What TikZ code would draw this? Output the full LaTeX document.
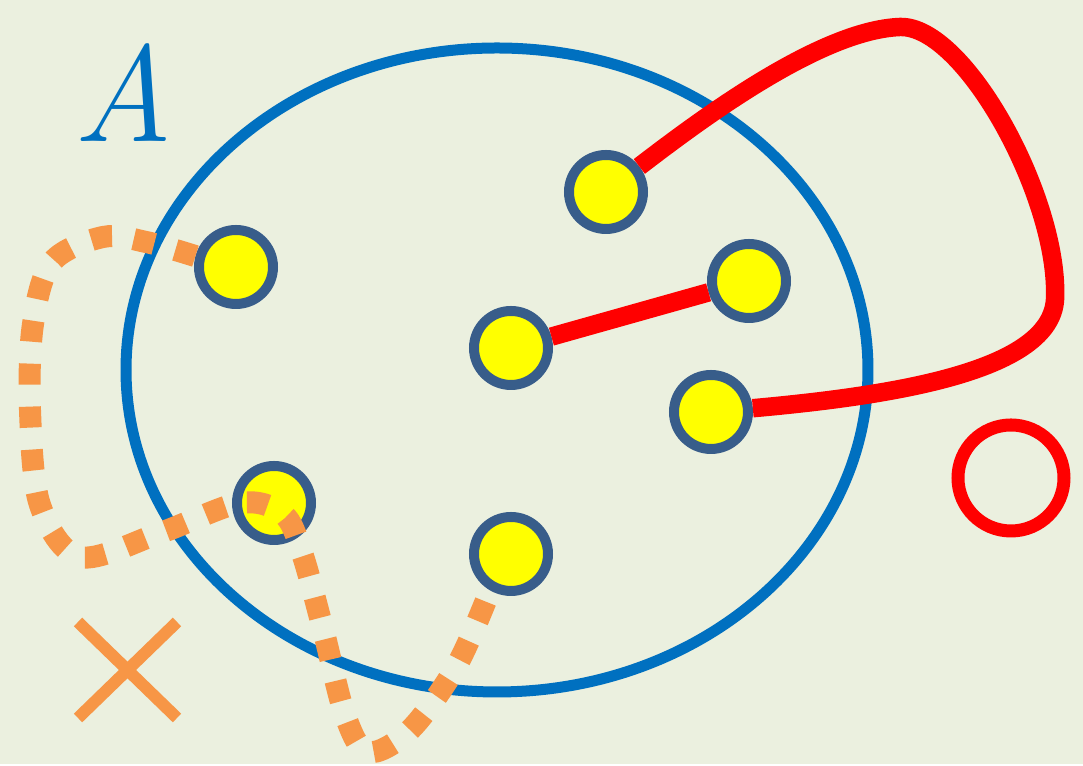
\documentclass[tikz,border=0pt]{standalone}
\usepackage{tikz}
\usetikzlibrary{calc}
\definecolor{sabg}     {HTML}{EBF0DF}
\definecolor{sablue}   {HTML}{0070C0}
\definecolor{saring}   {HTML}{385D8A}
\definecolor{sayellow} {HTML}{FFFF00}
\definecolor{sared}    {HTML}{FF0000}
\definecolor{saorange} {HTML}{F79646}
\tikzset{
  sadot/.style={circle, draw=saring, fill=sayellow, line width=1mm,
                minimum size=7.4mm, inner sep=0pt},
  saset/.style={draw=sablue, line width=1.1mm},
  salink/.style={draw=sared, line width=1.85mm},
  satrail/.style={draw=saorange, line width=2.2mm, dash pattern=on 2.1mm off 2.2mm},
  samark/.style={draw=saorange, line width=1.2mm},
  saring/.style={circle, draw=sared, line width=1.3mm, minimum size=10.6mm, inner sep=0pt},
  salabel/.style={text=sablue, font=\fontsize{39}{39}\selectfont\itshape, inner sep=0pt},
}

\begin{document}
\begin{tikzpicture}[x=0.1mm, y=-0.1mm]
  % page = the shaded panel, one unit per pixel of the sketch
  \fill[sabg] (0,0) rectangle (1083,764);
  \draw[saset] (497,370) ellipse [x radius=37.1mm, y radius=32.2mm];
  \node[salabel] (lblA) at (123,93) {A};
  \foreach \n/\x/\y in {D1/236/267, D2/606/192, D3/749/281, D4/511/348,
                        D5/711/412, D6/274/503, D7/511/554}
    { \node[sadot] (\n) at (\x,\y) {}; }
  \draw[salink] (D4) -- (D3);
  \draw[salink] (D2) .. controls (700,120) and (820,30) .. (900,27)
                     .. controls (965,25) and (1060,200) .. (1055,300)
                     .. controls (1050,370) and (900,395) .. (D5);
  \draw[satrail] plot[smooth, tension=0.55] coordinates {(D1.165) (146,242) (103,237) (52,262)
                 (33,324) (30,410) (40,505) (80,557) (160,533) (240,503) (283,514)
                 (302,553) (324,633) (345,715) (368,752) (410,730) (457,665) (D7.240)};
  \node[saring] (ring) at (1011,478) {};
  \draw[samark] (78,622) -- (177,718);
  \draw[samark] (177,622) -- (78,718);
\end{tikzpicture}
\end{document}
